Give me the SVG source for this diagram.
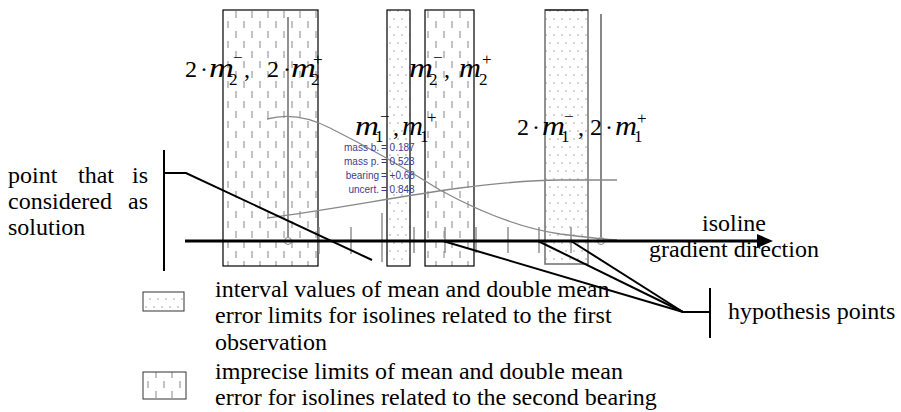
<svg xmlns="http://www.w3.org/2000/svg" width="901" height="412" viewBox="0 0 901 412">
<style>
.t{font-family:"Liberation Serif","Times New Roman",serif;font-size:24px;fill:#000}
.m{font-style:italic;font-size:27px}
.s{font-size:17px}
.b{font-family:"Liberation Sans",Arial,sans-serif;font-size:10px;fill:#3c3c96}
.box{stroke:#000;stroke-width:1.2}
.gl{stroke:#888;stroke-width:1.3;fill:none}
.tick{stroke:#888;stroke-width:1.4}
.k{stroke:#000;stroke-width:2;fill:none}
</style>
<defs>
<pattern id="dash" width="16" height="20" patternUnits="userSpaceOnUse">
<line x1="4" y1="1" x2="4" y2="8" stroke="#9a9a9a" stroke-width="1.2"/>
<line x1="12" y1="11" x2="12" y2="18" stroke="#9a9a9a" stroke-width="1.2"/>
</pattern>
<pattern id="dots" width="8" height="16" patternUnits="userSpaceOnUse">
<circle cx="2" cy="3" r="0.8" fill="#9a9a9a"/>
<circle cx="6" cy="11" r="0.8" fill="#9a9a9a"/>
</pattern>
<marker id="arrow" markerWidth="16" markerHeight="14" refX="0" refY="7" orient="auto" markerUnits="userSpaceOnUse">
<path d="M0,0 L16,7 L0,14 z" fill="#000"/>
</marker>
</defs>
<rect width="901" height="412" fill="#fff"/>

<g id="band-1">
<rect x="223" y="10" width="95" height="256" fill="url(#dash)" class="box"/>
<line x1="288" y1="17" x2="288" y2="237" stroke="#555" stroke-width="1.3"/>
<circle cx="288" cy="241" r="3.5" fill="none" stroke="#888" stroke-width="1"/>
</g>
<g id="band-2">
<rect x="387" y="10" width="23" height="256" fill="url(#dots)" class="box"/>
</g>
<g id="band-3">
<rect x="425" y="10" width="49" height="256" fill="url(#dash)" class="box"/>
</g>
<g id="band-4">
<rect x="545" y="10" width="43" height="254" fill="url(#dots)" stroke="#777" stroke-width="1.6"/>
<line x1="545" y1="10" x2="588" y2="10" stroke="#000" stroke-width="1.2"/>
<line x1="601" y1="14" x2="601" y2="237" stroke="#888" stroke-width="2"/>
<circle cx="601" cy="241" r="3.5" fill="none" stroke="#888" stroke-width="1"/>
</g>

<g id="curves">
<path class="gl" d="M267,119 C285,114 305,115 330,128 C360,143 400,165 440,190 C480,212 520,228 560,234 C585,237 600,239 617,240"/>
<path class="gl" d="M267,218 C330,210 400,196 460,188 C500,183 530,180 560,180 L617,180"/>
</g>

<g id="ticks">
<line class="tick" x1="319" y1="227" x2="319" y2="254"/>
<line class="tick" x1="351" y1="227" x2="351" y2="254"/>
<line class="tick" x1="382" y1="213" x2="382" y2="262"/>
<line class="tick" x1="414" y1="227" x2="414" y2="253"/>
<line class="tick" x1="445" y1="227" x2="445" y2="253"/>
<line class="tick" x1="476" y1="227" x2="476" y2="253"/>
<line class="tick" x1="508" y1="227" x2="508" y2="253"/>
<line class="tick" x1="539" y1="227" x2="539" y2="253"/>
<line class="tick" x1="571" y1="227" x2="571" y2="253"/>
</g>

<g id="info">
<text class="b" x="379" y="151" text-anchor="end">mass b.</text><text class="b" x="381" y="151">= 0.187</text>
<text class="b" x="379" y="165" text-anchor="end">mass p.</text><text class="b" x="381" y="165">= 0.523</text>
<text class="b" x="379" y="179" text-anchor="end">bearing</text><text class="b" x="381" y="179">= +0.68</text>
<text class="b" x="379" y="193" text-anchor="end">uncert.</text><text class="b" x="381" y="193">= 0.848</text>
</g>

<g id="label-2m2">
<text class="t" x="185" y="77">2</text>
<text class="t" x="200" y="77">·</text>
<text class="t m" x="209" y="77" textLength="25" lengthAdjust="spacingAndGlyphs">m</text>
<text class="t s" x="229" y="85">2</text>
<text class="t s" x="233" y="63">−</text>
<text class="t" x="244" y="77">,</text>
<text class="t" x="267" y="77">2</text>
<text class="t" x="283" y="77">·</text>
<text class="t m" x="291" y="77" textLength="25" lengthAdjust="spacingAndGlyphs">m</text>
<text class="t s" x="311" y="85">2</text>
<text class="t s" x="313" y="65">+</text>
</g>
<g id="label-m2">
<text class="t m" x="409" y="77" textLength="24" lengthAdjust="spacingAndGlyphs">m</text>
<text class="t s" x="429" y="85">2</text>
<text class="t s" x="433" y="63">−</text>
<text class="t" x="444" y="77">,</text>
<text class="t m" x="459" y="77" textLength="22" lengthAdjust="spacingAndGlyphs">m</text>
<text class="t s" x="479" y="85">2</text>
<text class="t s" x="482" y="65">+</text>
</g>
<g id="label-m1">
<text class="t m" x="355" y="135" textLength="24" lengthAdjust="spacingAndGlyphs">m</text>
<text class="t s" x="375" y="142">1</text>
<text class="t s" x="380" y="122">−</text>
<text class="t" x="393" y="135">,</text>
<text class="t m" x="402" y="135" textLength="21" lengthAdjust="spacingAndGlyphs">m</text>
<text class="t s" x="420" y="142">1</text>
<text class="t s" x="427" y="123">+</text>
</g>
<g id="label-2m1">
<text class="t" x="517" y="135">2</text>
<text class="t" x="532" y="135">·</text>
<text class="t m" x="542" y="135" textLength="23" lengthAdjust="spacingAndGlyphs">m</text>
<text class="t s" x="561" y="142">1</text>
<text class="t s" x="564" y="122">−</text>
<text class="t" x="578" y="135">,</text>
<text class="t" x="590" y="135">2</text>
<text class="t" x="605" y="135">·</text>
<text class="t m" x="615" y="135" textLength="22" lengthAdjust="spacingAndGlyphs">m</text>
<text class="t s" x="634" y="142">1</text>
<text class="t s" x="637" y="124">+</text>
</g>

<g id="connectors">
<line x1="185" y1="241" x2="757" y2="241" stroke="#000" stroke-width="3" marker-end="url(#arrow)"/>
<line class="k" x1="164" y1="150" x2="164" y2="271"/>
<polyline class="k" points="164,173 186,173 372,260"/>
<line class="k" x1="443" y1="241" x2="683" y2="312"/>
<line class="k" x1="538" y1="241" x2="683" y2="312"/>
<line class="k" x1="571" y1="241" x2="683" y2="312"/>
<line class="k" x1="683" y1="312" x2="710" y2="312"/>
<line class="k" x1="710" y1="288" x2="710" y2="338"/>
</g>

<g id="axis-labels">
<text class="t" x="702" y="231">isoline</text>
<text class="t" x="649" y="257">gradient direction</text>
</g>

<g id="solution-label">
<text class="t" x="8" y="183">point</text>
<text class="t" x="78" y="183">that</text>
<text class="t" x="132" y="183">is</text>
<text class="t" x="8" y="209">considered</text>
<text class="t" x="128" y="209">as</text>
<text class="t" x="8" y="235">solution</text>
</g>

<g id="hypothesis-label">
<text class="t" x="728" y="319">hypothesis points</text>
</g>

<g id="legend-1">
<rect x="143" y="292" width="41" height="19" fill="url(#dots)" stroke="#333" stroke-width="1"/>
<text class="t" x="215" y="297">interval values of mean and double mean</text>
<text class="t" x="215" y="323">error limits for isolines related to the first</text>
<text class="t" x="215" y="350">observation</text>
</g>
<g id="legend-2">
<rect x="143" y="372" width="43" height="27" fill="url(#dash)" stroke="#333" stroke-width="1"/>
<text class="t" x="215" y="379">imprecise limits of mean and double mean</text>
<text class="t" x="215" y="405">error for isolines related to the second bearing</text>
</g>
</svg>
